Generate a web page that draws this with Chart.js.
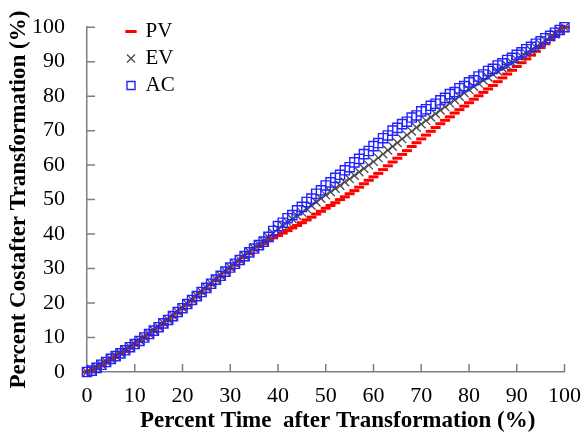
<!DOCTYPE html>
<html>
<head>
<meta charset="utf-8">
<script src="https://cdn.jsdelivr.net/npm/chart.js@4.4.1/dist/chart.umd.min.js"></script>
<style>
  html, body { margin: 0; padding: 0; background: #fff; }
  #wrap { width: 584px; height: 433px; }
</style>
</head>
<body>
<div id="wrap"><canvas id="costChart"></canvas></div>
<script>
// percent time after transformation (x positions of the markers)
var timePct = [0,1,2,3,4,5,6,7,8,9,10,11,12,13,14,15,16,17,18,19,20,21,22,23,24,25,26,27,28,29,30,
  31,32,33,34,35,36,37,38,39,40,41,42,43,44,45,46,47,48,49,50,51,52,53,54,55,56,57,58,59,60,
  61,62,63,64,65,66,67,68,69,70,71,72,73,74,75,76,77,78,79,80,81,82,83,84,85,86,87,88,89,90,
  91,92,93,94,95,96,97,98,99,100];

// percent cost
var pvCost = [0,0.5,1.2,2.0,2.8,3.6,4.4,5.3,6.1,7.0,7.9,8.9,9.8,10.8,11.8,12.8,13.8,14.9,16.0,17.1,
  18.3,19.4,20.6,21.8,22.9,24.1,25.3,26.5,27.6,28.8,29.9,31.0,32.1,33.2,34.3,35.4,36.4,37.3,
  38.1,38.9,39.6,40.3,41.0,41.8,42.5,43.3,44.1,44.9,45.8,46.6,47.5,48.3,49.1,50.0,50.8,51.7,
  52.6,53.6,54.6,55.6,56.6,57.6,58.7,59.8,60.9,62.0,63.1,64.2,65.4,66.5,67.6,68.7,69.8,70.9,
  72.0,73.0,74.0,75.1,76.1,77.1,78.1,79.1,80.1,81.1,82.1,83.1,84.2,85.3,86.4,87.5,88.6,89.7,
  90.8,91.9,93.0,94.1,95.2,96.4,97.6,98.8,100];

var evCost = [0,0.6,1.4,2.2,3.0,3.8,4.7,5.5,6.4,7.3,8.2,9.2,10.1,11.1,12.1,13.1,14.2,15.2,16.3,17.5,
  18.6,19.8,21.0,22.1,23.3,24.5,25.7,26.9,28.0,29.2,30.4,31.5,32.6,33.7,34.8,35.9,37.0,38.0,
  39.1,40.3,41.5,42.5,43.4,44.4,45.3,46.3,47.3,48.3,49.3,50.3,51.3,52.2,53.2,54.1,55.1,56.0,
  57.0,58.0,59.0,60.0,61.0,62.1,63.2,64.3,65.4,66.5,67.6,68.7,69.8,70.9,71.9,72.9,73.9,74.9,
  75.9,76.9,77.9,78.9,79.9,80.9,81.9,82.8,83.7,84.6,85.5,86.4,87.3,88.1,88.9,89.7,90.6,91.5,
  92.4,93.3,94.2,95.1,96.1,97.1,98.0,99.0,100];

var acCost = [0,0.4,1.2,2.1,2.9,3.8,4.6,5.4,6.3,7.2,8.1,9.0,10.0,11.0,12.0,13.0,14.1,15.1,16.2,17.4,
  18.5,19.7,20.9,22.0,23.2,24.4,25.6,26.8,27.9,29.1,30.3,31.4,32.5,33.6,34.7,35.8,36.8,37.8,
  39.2,40.9,42.3,43.3,44.6,45.5,46.9,47.9,49.3,50.3,51.7,52.7,54.1,55.0,56.3,57.2,58.5,59.4,
  60.8,61.8,63.2,64.1,65.5,66.4,67.8,68.6,70.0,70.8,71.9,72.6,73.8,74.4,75.6,76.2,77.2,77.8,
  78.8,79.5,80.6,81.2,82.3,82.9,84.0,84.6,85.7,86.3,87.3,87.9,88.9,89.5,90.5,91.1,92.0,92.7,
  93.6,94.3,95.2,95.9,96.8,97.5,98.4,99.2,100];

var axisColor = '#7f7f7f';
var serif = "'Liberation Serif', 'Times New Roman', serif";

// tick marks pointing into the plot, like the original figure
var innerTicks = {
  id: 'innerTicks',
  beforeDatasetsDraw: function (chart) {
    var ctx = chart.ctx, xs = chart.scales.x, ys = chart.scales.y;
    ctx.save();
    ctx.strokeStyle = axisColor;
    ctx.lineWidth = 1.5;
    ctx.beginPath();
    xs.ticks.forEach(function (t) {
      var px = xs.getPixelForValue(t.value);
      ctx.moveTo(px, ys.bottom);
      ctx.lineTo(px, ys.bottom - 8);
    });
    ys.ticks.forEach(function (t) {
      var py = ys.getPixelForValue(t.value);
      ctx.moveTo(xs.left, py);
      ctx.lineTo(xs.left + 8, py);
    });
    ctx.stroke();
    ctx.restore();
  }
};

// legend into the upper left of the plot, x title a bit to the right
var placeThings = {
  id: 'placeThings',
  afterLayout: function (chart) {
    var lg = chart.legend;
    var w = lg.width, h = lg.height;
    lg.left = 121; lg.right = lg.left + w;
    lg.top = 15; lg.bottom = lg.top + h;

    var xs = chart.scales.x;
    if (!xs._titleShifted) {
      var orig = xs.drawTitle;
      xs.drawTitle = function () {
        this.ctx.save();
        this.ctx.translate(12, 0);
        orig.call(this);
        this.ctx.restore();
      };
      xs._titleShifted = true;
    }
  }
};

var costChart = new Chart(document.getElementById('costChart'), {
  type: 'line',
  data: {
    labels: timePct,
    datasets: [
      {
        label: 'PV',
        data: pvCost,
        order: 3,
        showLine: false,
        pointStyle: 'line',
        pointRadius: 5,
        pointBorderWidth: 3,
        pointBorderColor: '#ff0000',
        pointBackgroundColor: '#ff0000',
        borderColor: '#ff0000',
        clip: false
      },
      {
        label: 'EV',
        data: evCost,
        order: 2,
        showLine: false,
        pointStyle: 'crossRot',
        pointRadius: 6,
        pointBorderWidth: 1.3,
        pointBorderColor: '#4a4a4a',
        borderColor: '#4a4a4a',
        clip: false
      },
      {
        label: 'AC',
        data: acCost,
        order: 1,
        showLine: false,
        pointStyle: 'rect',
        pointRadius: 6.5,
        pointBorderWidth: 1.4,
        pointBorderColor: '#2222ff',
        pointBackgroundColor: 'rgba(0,0,0,0)',
        borderColor: '#2222ff',
        clip: false
      }
    ]
  },
  options: {
    responsive: true,
    maintainAspectRatio: false,
    animation: false,
    layout: { padding: { top: 25, right: 17, left: 0, bottom: 0 } },
    plugins: {
      tooltip: { enabled: false },
      legend: {
        display: true,
        position: 'chartArea',
        align: 'start',
        labels: {
          usePointStyle: true,
          boxWidth: 8,
          boxHeight: 8,
          padding: 6,
          color: '#000',
          font: { family: serif, size: 21 },
          sort: function (a, b) { return a.datasetIndex - b.datasetIndex; }
        }
      }
    },
    scales: {
      x: {
        type: 'linear',
        min: 0,
        max: 100,
        afterFit: function (s) { s.height = 61; },
        grid: { display: false },
        border: { display: true, color: axisColor, width: 1.5 },
        ticks: {
          stepSize: 10,
          padding: 3,
          maxRotation: 0,
          color: '#000',
          font: { family: serif, size: 22 }
        },
        title: {
          display: true,
          text: 'Percent Time  after Transformation (%)',
          color: '#000',
          padding: { top: 0, bottom: 0 },
          font: { family: serif, size: 23, weight: 'bold', lineHeight: 1 }
        }
      },
      y: {
        type: 'linear',
        min: 0,
        max: 100,
        afterFit: function (s) { s.width = 87; },
        grid: { display: false },
        border: { display: true, color: axisColor, width: 1.5 },
        ticks: {
          stepSize: 10,
          padding: 14,
          color: '#000',
          font: { family: serif, size: 22 }
        },
        title: {
          display: true,
          text: 'Percent Costafter Transformation (%)',
          color: '#000',
          padding: { top: 5, bottom: 0 },
          font: { family: serif, size: 23, weight: 'bold' }
        }
      }
    }
  },
  plugins: [innerTicks, placeThings]
});
</script>
</body>
</html>
